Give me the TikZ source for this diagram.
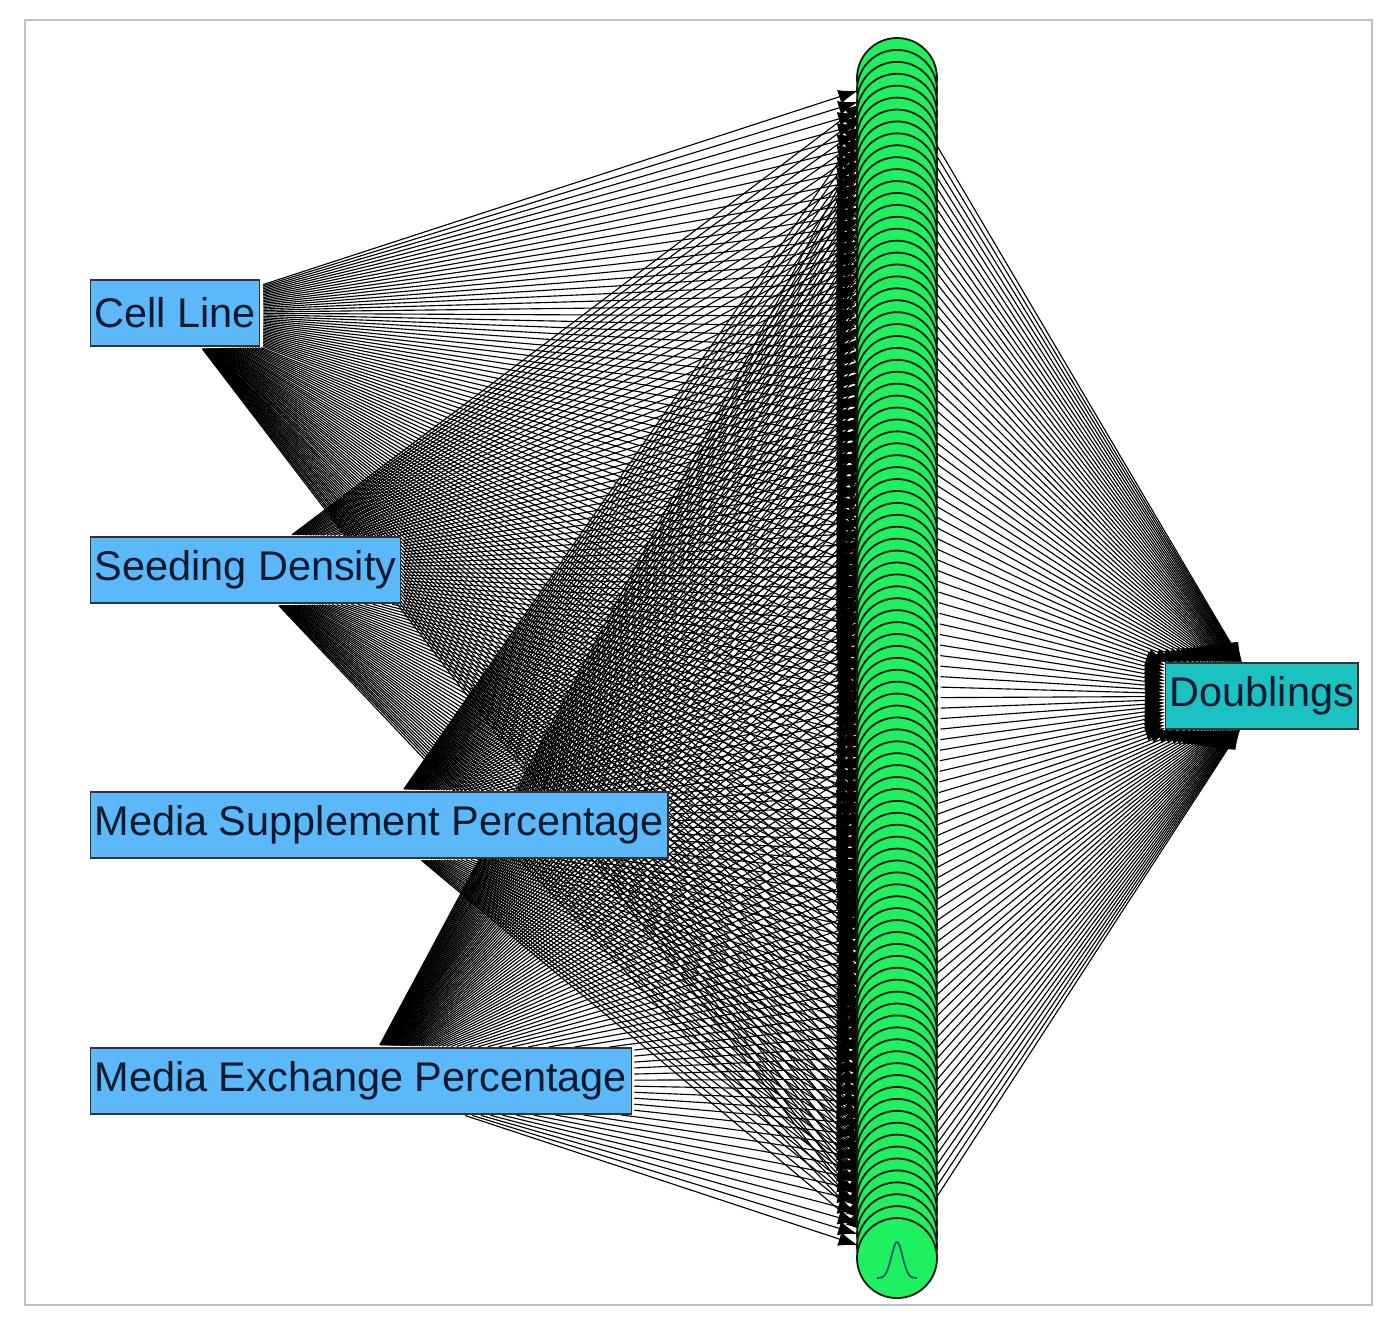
\documentclass[tikz,border=0pt]{standalone}
\usepackage{fontspec}
\setmainfont{Liberation Sans}
\usetikzlibrary{arrows.meta}
\pgfdeclarelayer{background}
\pgfsetlayers{background,main}
\definecolor{inblue}{HTML}{5CB9F9}
\definecolor{outteal}{HTML}{1CC2C2}
\definecolor{hgreen}{HTML}{1EF060}
\definecolor{txt}{HTML}{08182E}
\tikzset{
  inp/.style={draw=black!80,line width=1.6pt,fill=inblue,text=txt,anchor=west,minimum height=3.3cm,inner xsep=0.2cm,font=\fontsize{59}{64}\selectfont},
  outp/.style={inp,fill=outteal},
  hid/.style={circle,draw=black!90,line width=2.6pt,fill=hgreen,minimum size=4cm,inner sep=0pt},
  edge/.style={line width=1.6pt,-{Latex[length=28pt,width=20pt]},shorten <=4pt}
}
\begin{document}
\begin{tikzpicture}[x=0.05cm,y=-0.05cm]
\useasboundingbox (0,0) rectangle (1397,1334);
\draw[black!25,line width=2pt] (25,20) rectangle (1372,1305);
\node[inp] (i1) at (90,313) {Cell Line};
\node[inp] (i2) at (90,570) {Seeding Density};
\node[inp] (i3) at (90,825) {Media Supplement Percentage};
\node[inp] (i4) at (90,1081) {Media Exchange Percentage};
\node[outp] (o) at (1165,696) {Doublings};
\foreach \i in {1,...,100} \node[hid] (h\i) at (897,{78+(\i-1)*11.92}) {};
\draw[color={rgb,255:red,20;green,90;blue,120},line width=2.5pt] plot[domain=-20:20,samples=40,smooth] ({897+\x},{1278-36*exp(-(\x*\x)/60)});
\begin{pgfonlayer}{background}
\foreach \i in {1,...,100}{
  \foreach \k in {1,2,3,4} \draw[edge] (i\k) -- (h\i);
  \draw[edge] (h\i) -- (o);
}
\end{pgfonlayer}
\end{tikzpicture}
\end{document}
